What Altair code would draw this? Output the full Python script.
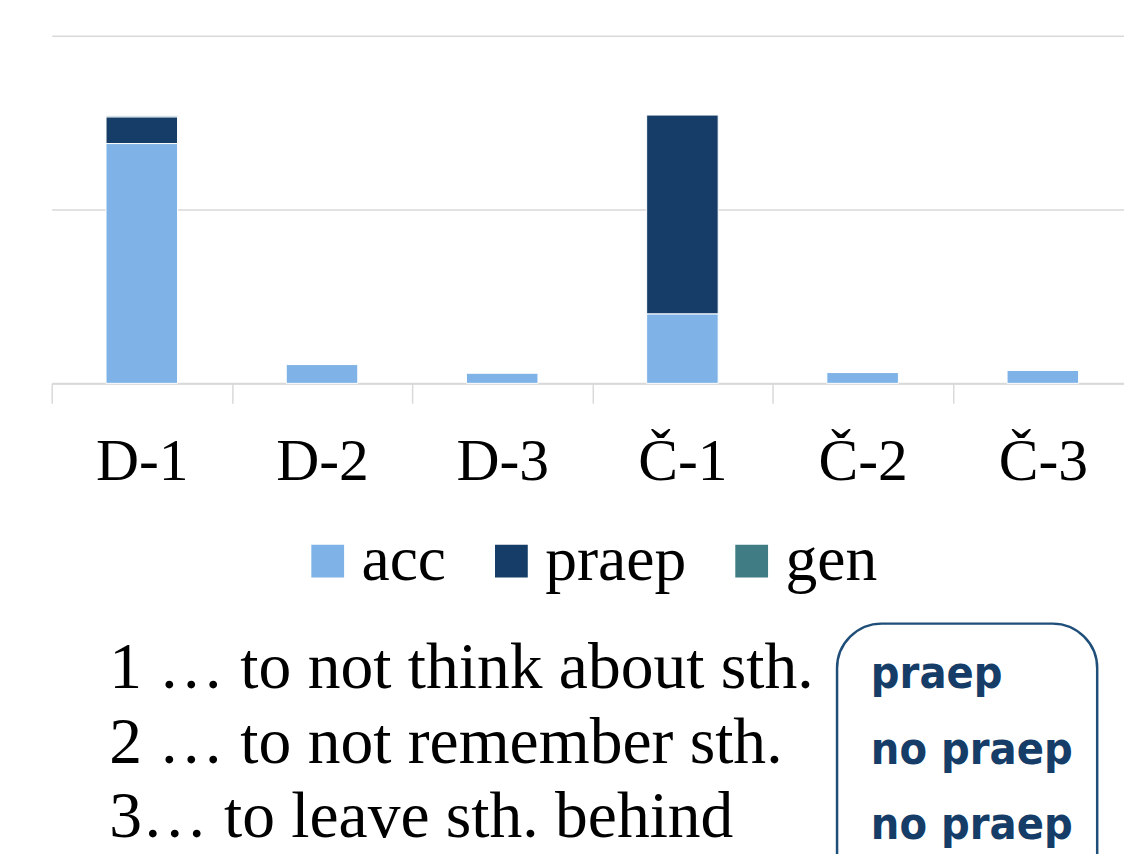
import altair as alt
import pandas as pd

categories = ["D-1", "D-2", "D-3", "Č-1", "Č-2", "Č-3"]
acc = [69.0, 5.4, 2.9, 20.0, 3.1, 3.7]
praep = [7.7, 0.0, 0.0, 57.2, 0.0, 0.0]
gen = [0.4, 0.0, 0.0, 0.0, 0.0, 0.0]
series = ["acc", "praep", "gen"]
colors = ["#7FB2E6", "#153D68", "#407C84"]

notes = ["1 … to not think about sth.", "2 … to not remember sth.", "3… to leave sth. behind"]
box_notes = ["praep", "no praep", "no praep"]

rows = []
for si, (name, vals) in enumerate(zip(series, [acc, praep, gen])):
    for c, v in zip(categories, vals):
        if v > 0:
            rows.append({"cat": c, "case": name, "value": v, "ord": si})
df = pd.DataFrame(rows)

SERIF = "Liberation Serif"

bars = alt.Chart(df).mark_bar(
    width=alt.RelativeBandSize(0.397), stroke="white", strokeWidth=1
).encode(
    x=alt.X("cat:N", sort=categories,
            scale=alt.Scale(paddingInner=0, paddingOuter=0),
            axis=alt.Axis(title=None, labelAngle=0, labelFont=SERIF, labelFontSize=60,
                          labelColor="black", labelPadding=30, tickBand="extent",
                          tickSize=20, tickColor="#d9d9d9", tickWidth=1.5,
                          domainColor="#d9d9d9", domainWidth=2, grid=False)),
    y=alt.Y("value:Q", stack="zero",
            scale=alt.Scale(domain=[0, 100], nice=False),
            axis=alt.Axis(title=None, labels=False, ticks=False, domain=False,
                          values=[0, 50, 100], grid=True, gridColor="#d9d9d9",
                          gridWidth=1.5)),
    color=alt.Color("case:N", sort=series,
                    scale=alt.Scale(domain=series, range=colors),
                    legend=alt.Legend(title=None, orient="none", legendX=246, legendY=497,
                                      direction="horizontal", symbolType="square",
                                      symbolSize=1089, symbolStrokeWidth=0,
                                      labelFont=SERIF, labelFontSize=64, labelColor="black",
                                      labelOffset=2, columnPadding=33, labelLimit=400)),
    order=alt.Order("ord:Q"),
)

layers = [bars]

box = alt.Chart(pd.DataFrame({"k": [0]})).mark_rect(
    cornerRadius=45, fill="white", fillOpacity=0, stroke="#1F4E79", strokeWidth=2.5
).encode(x=alt.value(791), x2=alt.value(1053), y=alt.value(592), y2=alt.value(880))
layers.append(box)

for i, t in enumerate(notes):
    layers.append(
        alt.Chart(pd.DataFrame({"t": [t]})).mark_text(
            align="left", baseline="alphabetic", font=SERIF, fontSize=66, color="black"
        ).encode(text="t:N", x=alt.value(58), y=alt.value(657 + i * 75))
    )
for i, t in enumerate(box_notes):
    layers.append(
        alt.Chart(pd.DataFrame({"t": [t]})).mark_text(
            align="left", baseline="alphabetic", font="DejaVu Sans Condensed",
            fontSize=45, fontWeight="bold", color="#153D68"
        ).encode(text="t:N", x=alt.value(825), y=alt.value(657 + i * 76))
    )

chart = alt.layer(*layers).properties(
    width=1089, height=350,
    autosize=alt.AutoSizeParams(type="none"),
    padding={"left": 44, "top": 25, "right": -9, "bottom": 471},
).configure_view(stroke=None)

chart.save("out.html", embed_options={"renderer": "svg", "actions": False})
